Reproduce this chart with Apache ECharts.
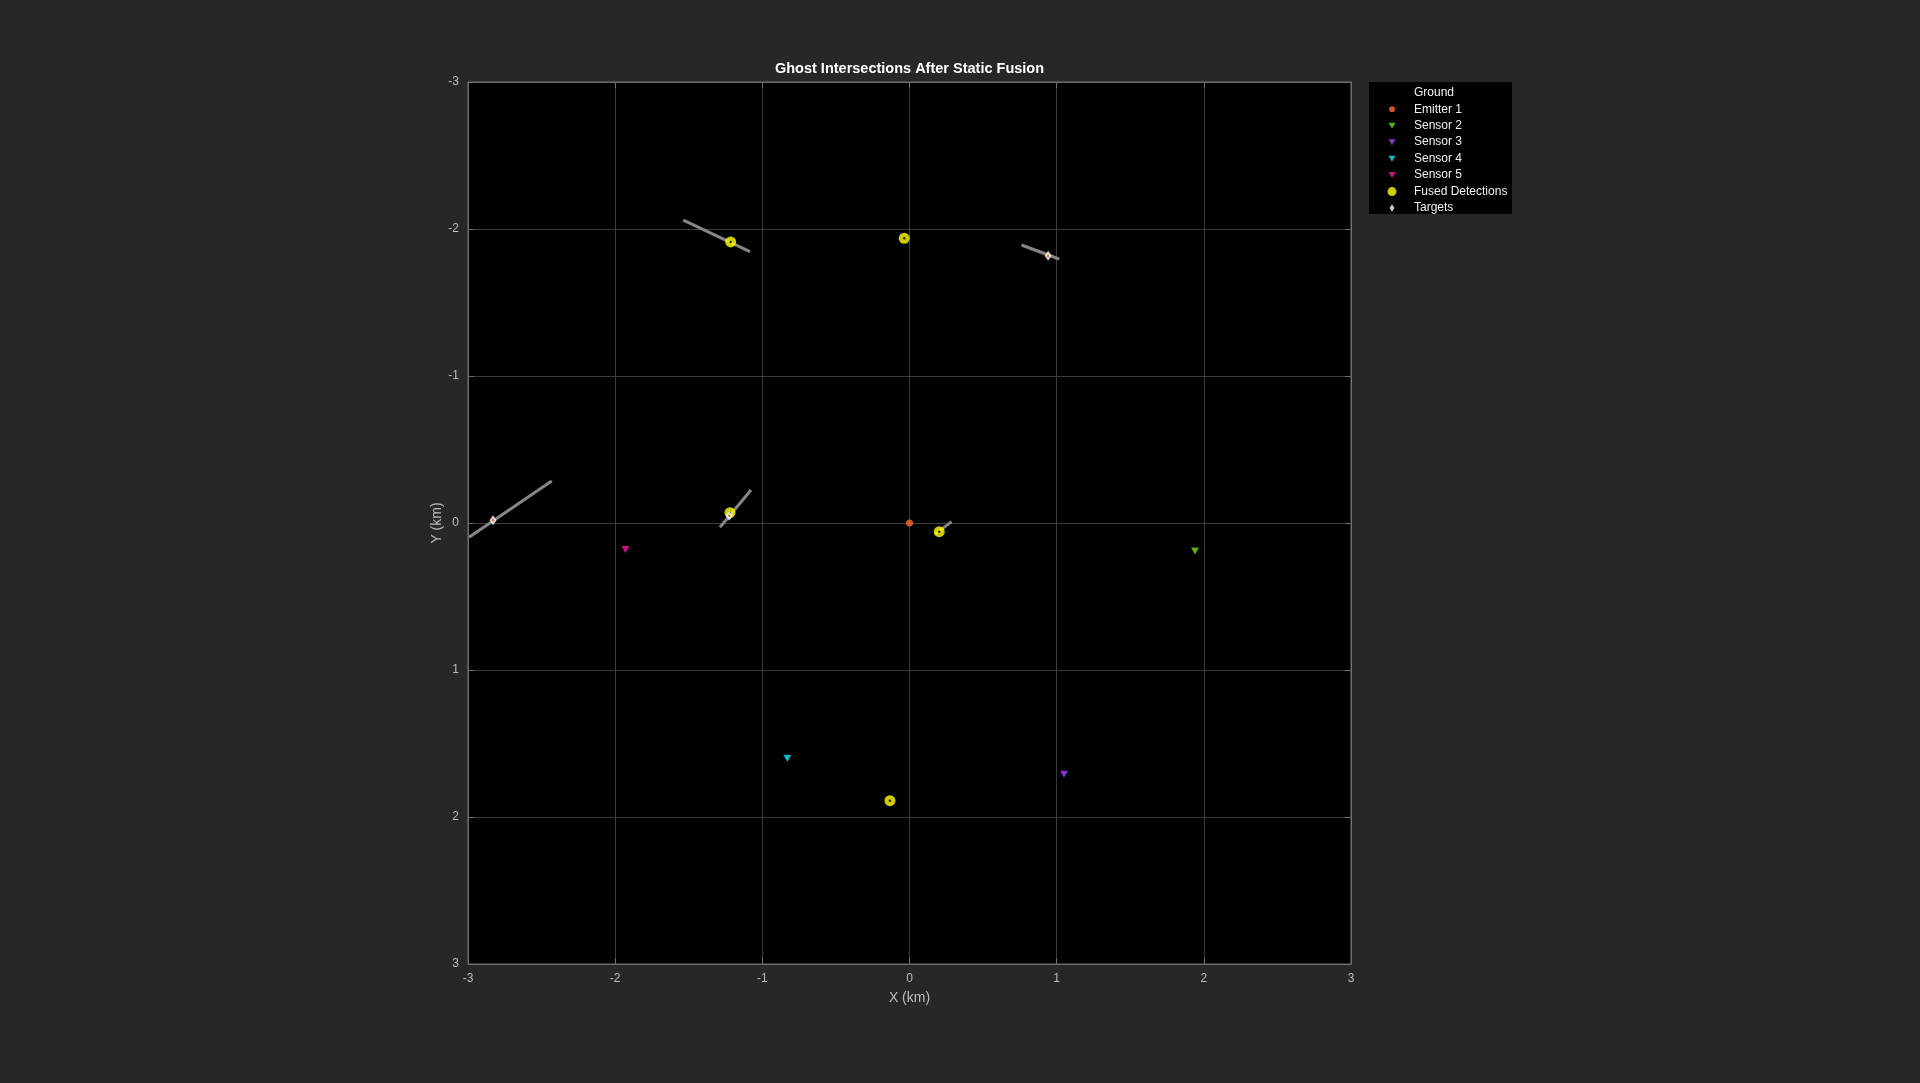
<!DOCTYPE html>
<html>
<head>
<meta charset="utf-8">
<script src="https://cdn.jsdelivr.net/npm/echarts@6/dist/echarts.min.js"></script>
<style>
html,body{margin:0;padding:0;background:#272727;}
#main{width:1920px;height:1083px;}
</style>
</head>
<body>
<div id="main"></div>
<script>
// ---- data (km) ----
const tickValues = [-3, -2, -1, 0, 1, 2, 3];
const emitter1 = [[0.0, 0.0]];
const sensor2 = [[1.94, 0.19]];
const sensor3 = [[1.05, 1.71]];
const sensor4 = [[-0.83, 1.60]];
const sensor5 = [[-1.93, 0.18]];
const fusedDetections = [[-1.215, -1.912], [-0.036, -1.937], [-1.22, -0.07], [0.202, 0.059], [-0.133, 1.889]];
const targets = [[0.942, -1.818], [-2.83, -0.018], [-1.225, -0.05]];
const ghostSegments = [
  [[-1.537, -2.061], [-1.084, -1.846]],
  [[0.761, -1.891], [1.017, -1.796]],
  [[-2.993, 0.097], [-2.431, -0.286]],
  [[-1.288, 0.029], [-1.077, -0.224]],
  [[0.173, 0.077], [0.286, -0.009]]
];
const legendNames = ['Ground', 'Emitter 1', 'Sensor 2', 'Sensor 3', 'Sensor 4', 'Sensor 5', 'Fused Detections', 'Targets'];

// ---- styles ----
const FONT = 'Liberation Sans, Arial, Helvetica, sans-serif';
const axisGray = '#bdbdbd';
const colors = {
  'Emitter 1': '#ff6a2c',
  'Sensor 2': '#72d91e',
  'Sensor 3': '#a045f5',
  'Sensor 4': '#17e6f5',
  'Sensor 5': '#ff16a6',
  'Fused Detections': '#ffff00',
  'Targets': '#ffffff'
};
// legend icon [width, height]
const legendIconSize = {'Ground': [8, 8], 'Emitter 1': [6, 6], 'Sensor 2': [7, 6], 'Sensor 3': [7, 6], 'Sensor 4': [7, 6], 'Sensor 5': [7, 6], 'Fused Detections': [9, 9], 'Targets': [5, 7.5]};
const diamondPath = 'path://M0,-3L2,0L0,3L-2,0Z';
const downTrianglePath = 'path://M-3.5,-3L3.5,-3L0,3Z';

const chart = echarts.init(document.getElementById('main'), null, {renderer: 'canvas'});

const series = [];
ghostSegments.forEach(function (seg) {
  series.push({
    type: 'line', data: seg, showSymbol: false, silent: true, z: 1,
    lineStyle: {color: '#858585', width: 3}, animation: false
  });
});
series.push({name: 'Ground', type: 'scatter', data: [], itemStyle: {color: '#ffffff'}});
series.push({name: 'Emitter 1', type: 'scatter', data: emitter1, symbol: 'circle', symbolSize: 7, itemStyle: {color: colors['Emitter 1']}});
[['Sensor 2', sensor2], ['Sensor 3', sensor3], ['Sensor 4', sensor4], ['Sensor 5', sensor5]].forEach(function (p) {
  series.push({name: p[0], type: 'scatter', data: p[1], symbol: downTrianglePath, symbolSize: [8, 7], itemStyle: {color: colors[p[0]]}});
});
series.push({name: 'Fused Detections', type: 'scatter', data: fusedDetections, symbol: 'circle', symbolSize: 11, itemStyle: {color: colors['Fused Detections']}});
series.push({name: 'fusedCenter', type: 'scatter', data: fusedDetections, symbol: 'circle', symbolSize: 2.5, itemStyle: {color: '#000000'}, silent: true});
series.push({name: 'Targets', type: 'scatter', data: targets, symbol: 'diamond', symbolSize: [7, 10], symbolKeepAspect: false, itemStyle: {color: colors['Targets']}});
series.push({name: 'targetCenter', type: 'scatter', data: targets, symbol: 'circle', symbolSize: 2.5, itemStyle: {color: '#d95319'}, silent: true});

const rowCenter0 = 92.8, rowStep = 16.46, iconCenterX = 1392;
const legends = legendNames.map(function (name, i) {
  const item = {name: name};
  if (name === 'Ground') item.itemStyle = {opacity: 0};
  if (name === 'Targets') item.icon = diamondPath;
  if (name.indexOf('Sensor') === 0) item.icon = downTrianglePath;
  const sz = legendIconSize[name];
  return {
    data: [item], orient: 'horizontal', left: iconCenterX - sz[0] / 2, top: rowCenter0 + i * rowStep - 7,
    itemWidth: 34, itemHeight: sz[1], padding: 0, selectedMode: false, symbolKeepAspect: true,
    textStyle: {color: '#f0f0f0', fontSize: 12, lineHeight: 14, fontFamily: FONT}
  };
});

function valueAxis(pos, showLabels, extra) {
  return Object.assign({
    type: 'value', position: pos, min: -3, max: 3, interval: 1,
    axisLine: {show: true, onZero: false, lineStyle: {color: '#6e6e6e', width: 1}},
    axisTick: {show: true, inside: true, length: 6, lineStyle: {color: '#6e6e6e'}},
    axisLabel: {show: showLabels, color: axisGray, fontSize: 12, fontFamily: FONT, margin: 9,
      formatter: function (v) { return tickValues.indexOf(v) >= 0 ? String(v) : ''; }},
    splitLine: {show: showLabels, lineStyle: {color: '#3b3b3b', width: 1}}
  }, extra || {});
}

chart.setOption({
  animation: false,
  backgroundColor: '#272727',
  grid: {left: 468, top: 82, width: 883, height: 882, show: true, backgroundColor: '#000000', borderColor: '#6e6e6e', borderWidth: 1},
  xAxis: [
    valueAxis('bottom', true, {name: 'X (km)', nameLocation: 'middle', nameGap: 27, nameTextStyle: {color: axisGray, fontSize: 14, fontFamily: FONT}}),
    valueAxis('top', false)
  ],
  yAxis: [
    valueAxis('left', true, {inverse: true, name: 'Y (km)', nameLocation: 'middle', nameGap: 21, nameTextStyle: {color: axisGray, fontSize: 14, fontFamily: FONT}}),
    valueAxis('right', false, {inverse: true})
  ],
  legend: legends,
  graphic: [
    {type: 'rect', shape: {x: 1369, y: 82, width: 143, height: 132}, style: {fill: '#000000'}, z: -1, silent: true},
    {type: 'text', x: 909.5, y: 68.6, style: {text: 'Ghost Intersections After Static Fusion', fill: '#ffffff', font: 'bold 14.5px ' + FONT, textAlign: 'center', textVerticalAlign: 'middle'}, silent: true}
  ],
  series: series
});
</script>
</body>
</html>
